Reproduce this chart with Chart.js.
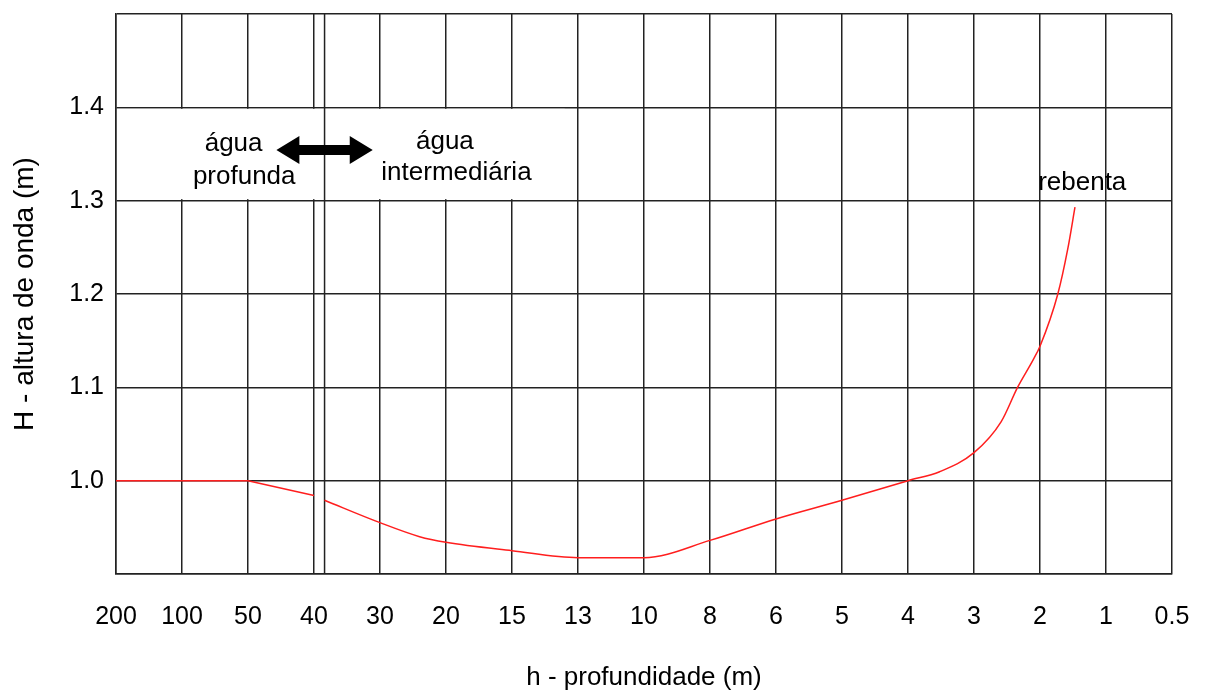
<!DOCTYPE html>
<html>
<head>
<meta charset="utf-8">
<script src="https://cdn.jsdelivr.net/npm/chart.js@4"></script>
<style>
  body { margin: 0; background: #fff; }
  #wrap { width: 1205px; height: 691px; }
</style>
</head>
<body>
<div id="wrap"><canvas id="myChart" width="1205" height="691"></canvas></div>
<script>
// eixo x: profundidade (posições igualmente espaçadas)
const depthLabels = ['200', '100', '50', '40', '30', '20', '15', '13', '10', '8', '6', '5', '4', '3', '2', '1', '0.5'];
// rótulos visíveis do eixo y
const heightTicks = [1.0, 1.1, 1.2, 1.3, 1.4];

// curva em água profunda
const deepPos = [0, 1, 2, 3];
const deepH = [1.0, 1.0, 1.0, 0.984];

// curva em água intermediária / rasa
const interPos = [3.16, 4, 4.6, 5, 6, 7, 8, 9, 10, 11, 12, 12.48, 13, 13.41, 13.66, 13.9, 14, 14.27, 14.42, 14.53];
const interH = [0.979, 0.955, 0.940, 0.934, 0.925, 0.9175, 0.9175, 0.936, 0.959, 0.979, 1.0, 1.0096, 1.030, 1.063, 1.1, 1.13, 1.144, 1.2, 1.248, 1.293];

// limite água profunda / intermediária
const boundaryPos = 3.16;

const gridColor = '#222';
const curveColor = 'rgb(255, 30, 30)';
const FONT = 'Liberation Sans, Arial, sans-serif';

const toXY = (xs, ys) => xs.map((x, i) => ({ x: x, y: ys[i] }));

// textos de anotação (em unidades dos eixos)
const notes = [
    { text: 'água', x: 1.344, y: 1.3528, align: 'left' },
    { text: 'profunda', x: 1.165, y: 1.3174, align: 'left' },
    { text: 'água', x: 4.545, y: 1.355, align: 'left' },
    { text: 'intermediária', x: 4.02, y: 1.3217, align: 'left' },
    { text: 'rebenta', x: 14.64, y: 1.311, align: 'center' }
];

const annotations = {
    id: 'annotations',
    beforeDatasetsDraw(chart) {
        const { ctx, chartArea, scales: { x, y } } = chart;
        ctx.save();
        // caixa branca atrás do texto
        const top = y.getPixelForValue(1.4);
        const bot = y.getPixelForValue(1.3);
        ctx.fillStyle = '#fff';
        ctx.fillRect(chartArea.left + 1, top + 1.5, x.getPixelForValue(6.8) - chartArea.left - 1, bot - top - 3);
        // linha do limite
        const bx = x.getPixelForValue(boundaryPos);
        ctx.strokeStyle = gridColor;
        ctx.lineWidth = 1.5;
        ctx.beginPath();
        ctx.moveTo(bx, chartArea.top);
        ctx.lineTo(bx, chartArea.bottom);
        ctx.stroke();
        ctx.restore();
    },
    afterDatasetsDraw(chart) {
        const { ctx, scales: { x, y } } = chart;
        ctx.save();
        // seta dupla
        const x1 = x.getPixelForValue(2.43);
        const x2 = x.getPixelForValue(3.89);
        const cy = y.getPixelForValue(1.3542);
        const head = 23, hh = 14, sh = 5;
        ctx.fillStyle = '#000';
        ctx.beginPath();
        ctx.moveTo(x1, cy);
        ctx.lineTo(x1 + head, cy - hh);
        ctx.lineTo(x1 + head, cy - sh);
        ctx.lineTo(x2 - head, cy - sh);
        ctx.lineTo(x2 - head, cy - hh);
        ctx.lineTo(x2, cy);
        ctx.lineTo(x2 - head, cy + hh);
        ctx.lineTo(x2 - head, cy + sh);
        ctx.lineTo(x1 + head, cy + sh);
        ctx.lineTo(x1 + head, cy + hh);
        ctx.closePath();
        ctx.fill();
        // textos
        ctx.font = '26px ' + FONT;
        ctx.textBaseline = 'alphabetic';
        notes.forEach(n => {
            ctx.textAlign = n.align;
            ctx.fillText(n.text, x.getPixelForValue(n.x), y.getPixelForValue(n.y));
        });
        ctx.restore();
    }
};

const ctx = document.getElementById('myChart').getContext('2d');

const chart = new Chart(ctx, {
    type: 'line',
    data: {
        datasets: [
            {
                data: toXY(deepPos, deepH),
                borderColor: curveColor,
                borderWidth: 1.5,
                pointRadius: 0,
                tension: 0
            },
            {
                data: toXY(interPos, interH),
                borderColor: curveColor,
                borderWidth: 1.5,
                pointRadius: 0,
                cubicInterpolationMode: 'monotone'
            }
        ]
    },
    options: {
        responsive: false,
        animation: false,
        devicePixelRatio: 1,
        layout: { padding: { top: 14, right: 33, left: 0, bottom: 0 } },
        plugins: {
            legend: { display: false },
            tooltip: { enabled: false }
        },
        scales: {
            x: {
                type: 'linear',
                min: 0,
                max: depthLabels.length - 1,
                afterFit(scale) {
                    scale.height = 117;
                    scale.paddingLeft = 0;
                    scale.paddingRight = 0;
                },
                ticks: {
                    stepSize: 1,
                    autoSkip: false,
                    maxRotation: 0,
                    padding: 28,
                    color: '#000',
                    font: { family: FONT, size: 25 },
                    callback: v => depthLabels[Math.round(v)]
                },
                grid: { color: gridColor, lineWidth: 1.5, drawTicks: false },
                border: { color: gridColor, width: 1.5 },
                title: {
                    display: true,
                    text: 'h - profundidade (m)',
                    color: '#000',
                    font: { family: FONT, size: 26, lineHeight: 1.0 },
                    padding: { top: 0, bottom: 0 }
                }
            },
            y: {
                min: 0.9,
                max: 1.5,
                afterFit(scale) {
                    scale.width = 116;
                    scale.paddingTop = 0;
                    scale.paddingBottom = 0;
                },
                ticks: {
                    stepSize: 0.1,
                    padding: 12,
                    color: '#000',
                    font: { family: FONT, size: 25 },
                    callback: v => {
                        const r = Math.round(v * 10) / 10;
                        return heightTicks.includes(r) ? r.toFixed(1) : '';
                    }
                },
                grid: { color: gridColor, lineWidth: 1.5, drawTicks: false },
                border: { color: gridColor, width: 1.5 },
                title: {
                    display: true,
                    text: 'H - altura de onda (m)',
                    color: '#000',
                    font: { family: FONT, size: 28, lineHeight: 1.0 },
                    padding: { top: 11, bottom: 0 }
                }
            }
        }
    },
    plugins: [annotations]
});
</script>
</body>
</html>
